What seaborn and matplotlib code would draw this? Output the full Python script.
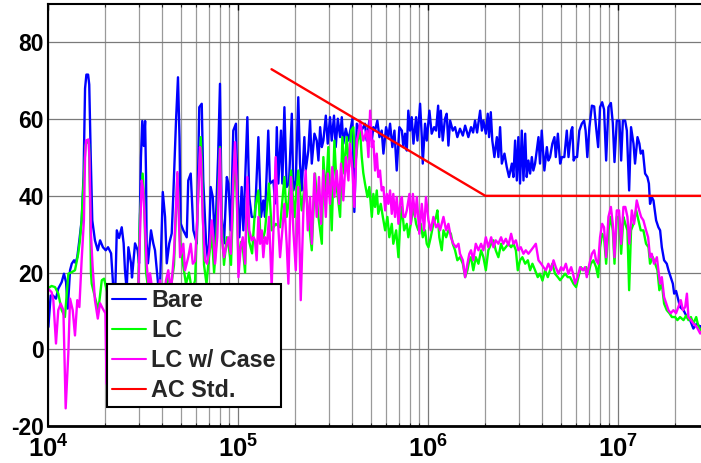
import numpy as np
import pandas as pd
import matplotlib
matplotlib.use("Agg")
import matplotlib.pyplot as plt
from matplotlib.ticker import LogLocator, NullFormatter
import seaborn as sns

# Conducted emission spectra: (log10 of frequency in Hz, level in dB)
bare_points = [
    (4.002, 5.8), (4.014, 14.0), (4.026, 14.0), (4.042, 13.2), (4.054, 15.8), (4.072, 17.5), (4.084, 19.7),
    (4.095, 17.5), (4.104, 10.6), (4.116, 20.6), (4.125, 22.3), (4.137, 23.2), (4.145, 22.5), (4.154, 24.0),
    (4.165, 28.4), (4.177, 33.6), (4.187, 45.0), (4.195, 68.0), (4.202, 71.6), (4.211, 71.6), (4.217, 69.0),
    (4.225, 50.0), (4.233, 33.6), (4.247, 28.4), (4.262, 25.8), (4.274, 28.4), (4.289, 26.6), (4.304, 25.8),
    (4.316, 26.6), (4.332, 25.0), (4.342, 17.2), (4.353, 13.5), (4.362, 31.0), (4.374, 29.0), (4.388, 31.8),
    (4.398, 27.6), (4.405, 20.6), (4.414, 15.4), (4.423, 26.6), (4.437, 22.4), (4.442, 18.7), (4.458, 27.6),
    (4.472, 25.8), (4.479, 22.4), (4.489, 50.0), (4.496, 59.5), (4.504, 53.0), (4.511, 59.5), (4.516, 45.0),
    (4.519, 27.6), (4.526, 22.4), (4.542, 31.0), (4.554, 27.6), (4.563, 25.8), (4.579, 17.2), (4.587, 12.0),
    (4.604, 41.0), (4.616, 34.5), (4.625, 22.4), (4.638, 27.6), (4.651, 30.2), (4.659, 39.7), (4.674, 60.0),
    (4.684, 70.9), (4.692, 55.0), (4.698, 32.8), (4.712, 31.0), (4.730, 29.2), (4.738, 44.0), (4.751, 45.8),
    (4.765, 31.0), (4.783, 27.6), (4.791, 50.0), (4.796, 63.1), (4.809, 64.0), (4.817, 44.0), (4.832, 27.6),
    (4.844, 22.4), (4.856, 42.3), (4.867, 39.7), (4.879, 27.6), (4.895, 50.0), (4.905, 69.2), (4.914, 34.5),
    (4.926, 27.6), (4.941, 44.9), (4.949, 43.2), (4.962, 31.0), (4.975, 57.0), (4.989, 58.8), (4.996, 43.2),
    (5.007, 29.2), (5.019, 42.3), (5.028, 31.0), (5.049, 60.5), (5.059, 39.7), (5.072, 34.5), (5.089, 34.5),
    (5.107, 55.3), (5.121, 34.5), (5.133, 38.8), (5.142, 34.5), (5.159, 57.0), (5.168, 43.2), (5.186, 44.0),
    (5.195, 38.0), (5.204, 57.9), (5.212, 43.2), (5.226, 57.0), (5.233, 43.2), (5.244, 63.1), (5.256, 42.3),
    (5.268, 43.2), (5.283, 61.4), (5.291, 41.4), (5.304, 44.0), (5.317, 65.7), (5.326, 48.4), (5.335, 41.4),
    (5.349, 55.3), (5.356, 46.6), (5.370, 51.8), (5.379, 59.6), (5.388, 48.4), (5.402, 56.2), (5.414, 54.4),
    (5.423, 49.2), (5.432, 57.9), (5.441, 52.7), (5.449, 54.4), (5.462, 60.9), (5.472, 53.6), (5.484, 60.5),
    (5.493, 54.4), (5.505, 60.9), (5.514, 52.7), (5.525, 60.1), (5.537, 55.3), (5.546, 60.5), (5.554, 53.6),
    (5.567, 57.5), (5.581, 54.4), (5.602, 60.1), (5.612, 35.8), (5.625, 58.8), (5.642, 57.0), (5.655, 57.5),
    (5.668, 58.8), (5.677, 54.4), (5.691, 59.6), (5.704, 54.4), (5.712, 57.9), (5.721, 57.0), (5.733, 59.6),
    (5.744, 55.3), (5.756, 57.0), (5.765, 51.0), (5.779, 57.9), (5.791, 55.3), (5.800, 58.8), (5.812, 52.7),
    (5.823, 57.0), (5.835, 46.6), (5.849, 57.9), (5.862, 57.0), (5.870, 52.7), (5.879, 56.2), (5.888, 51.8),
    (5.896, 62.2), (5.905, 57.0), (5.914, 60.5), (5.923, 53.6), (5.937, 60.5), (5.944, 54.4), (5.958, 64.0),
    (5.967, 55.3), (5.972, 48.4), (5.984, 58.8), (5.993, 54.4), (6.007, 62.2), (6.019, 56.2), (6.032, 57.9),
    (6.042, 57.0), (6.053, 63.5), (6.059, 55.3), (6.067, 62.2), (6.077, 54.4), (6.089, 60.1), (6.098, 61.4),
    (6.107, 53.1), (6.116, 59.6), (6.130, 57.0), (6.142, 57.9), (6.154, 55.3), (6.168, 57.5), (6.183, 55.7),
    (6.195, 58.3), (6.212, 55.3), (6.226, 57.9), (6.237, 56.5), (6.247, 59.6), (6.258, 56.5), (6.274, 62.2),
    (6.283, 57.0), (6.291, 59.6), (6.304, 56.2), (6.314, 61.4), (6.321, 55.3), (6.330, 61.8), (6.338, 54.4),
    (6.349, 50.1), (6.362, 55.3), (6.370, 50.1), (6.379, 57.9), (6.388, 48.4), (6.402, 51.0), (6.414, 47.5),
    (6.426, 44.9), (6.441, 48.4), (6.449, 44.9), (6.458, 54.4), (6.467, 44.0), (6.475, 55.3), (6.484, 43.2),
    (6.493, 57.0), (6.502, 44.0), (6.511, 56.2), (6.519, 44.9), (6.528, 49.2), (6.537, 45.8), (6.546, 50.1),
    (6.554, 46.6), (6.563, 48.4), (6.572, 51.8), (6.581, 55.3), (6.589, 48.4), (6.598, 57.0), (6.612, 46.6),
    (6.625, 52.7), (6.633, 49.2), (6.642, 50.1), (6.654, 53.6), (6.665, 55.3), (6.672, 50.1), (6.683, 56.2),
    (6.695, 48.4), (6.704, 50.1), (6.717, 50.1), (6.730, 57.0), (6.739, 50.1), (6.753, 57.0), (6.759, 57.9),
    (6.766, 49.2), (6.774, 50.1), (6.784, 50.1), (6.796, 57.0), (6.809, 58.8), (6.821, 59.6), (6.829, 57.0),
    (6.838, 50.1), (6.849, 57.9), (6.862, 63.5), (6.874, 63.3), (6.884, 57.9), (6.895, 52.7), (6.905, 63.1),
    (6.916, 64.4), (6.926, 62.5), (6.937, 49.2), (6.949, 63.1), (6.962, 64.2), (6.972, 59.0), (6.981, 48.8),
    (6.993, 59.6), (7.007, 59.6), (7.016, 49.2), (7.025, 59.6), (7.037, 59.6), (7.046, 57.0), (7.058, 41.4),
    (7.068, 57.9), (7.081, 53.6), (7.089, 48.4), (7.102, 55.3), (7.112, 53.6), (7.119, 51.0), (7.130, 51.8),
    (7.142, 45.8), (7.154, 44.9), (7.162, 43.2), (7.168, 37.9), (7.177, 39.7), (7.186, 38.8), (7.200, 33.6),
    (7.212, 31.8), (7.221, 31.0), (7.230, 26.6), (7.242, 23.2), (7.256, 22.3), (7.265, 20.6), (7.277, 18.8),
    (7.288, 17.1), (7.295, 14.5), (7.305, 15.2), (7.317, 12.8), (7.326, 11.0), (7.344, 10.2), (7.362, 8.4),
    (7.379, 7.6), (7.396, 5.4), (7.414, 6.7), (7.432, 5.8), (7.437, 6.0),
]

lc_points = [
    (4.000, 15.9), (4.019, 16.5), (4.037, 16.2), (4.054, 14.5), (4.072, 10.2), (4.089, 8.4), (4.107, 19.7),
    (4.125, 20.1), (4.142, 20.6), (4.159, 24.9), (4.168, 28.4), (4.177, 33.6), (4.189, 45.0), (4.197, 53.0),
    (4.205, 54.5), (4.216, 53.5), (4.221, 40.0), (4.226, 20.0), (4.230, 17.1), (4.247, 13.6), (4.265, 10.2),
    (4.283, 18.0), (4.295, 18.4), (4.305, 16.2), (4.326, 12.0), (4.353, 8.0), (4.389, 12.0), (4.432, 9.0),
    (4.474, 15.0), (4.484, 35.0), (4.498, 45.8), (4.505, 40.0), (4.516, 20.0), (4.532, 14.0), (4.547, 12.0),
    (4.563, 14.0), (4.589, 10.0), (4.616, 15.0), (4.632, 19.0), (4.647, 16.0), (4.663, 22.0), (4.681, 45.8),
    (4.695, 28.0), (4.711, 22.0), (4.726, 17.0), (4.742, 20.0), (4.758, 15.0), (4.774, 18.0), (4.787, 36.0),
    (4.804, 55.3), (4.811, 45.0), (4.821, 22.0), (4.834, 17.0), (4.847, 24.0), (4.862, 30.0), (4.874, 20.0),
    (4.884, 27.0), (4.895, 40.0), (4.905, 52.7), (4.914, 33.0), (4.926, 22.0), (4.941, 29.2), (4.953, 26.0),
    (4.963, 22.0), (4.975, 40.0), (4.984, 52.0), (4.993, 40.0), (5.003, 22.0), (5.016, 28.0), (5.026, 26.0),
    (5.037, 20.0), (5.049, 43.0), (5.059, 28.0), (5.074, 25.0), (5.089, 36.2), (5.107, 41.4), (5.116, 31.0),
    (5.133, 29.0), (5.142, 31.0), (5.163, 43.2), (5.177, 31.0), (5.198, 32.7), (5.221, 31.8), (5.244, 44.9),
    (5.256, 34.5), (5.265, 38.0), (5.279, 46.6), (5.296, 34.5), (5.317, 46.6), (5.335, 36.2), (5.353, 44.0),
    (5.370, 34.5), (5.388, 25.8), (5.405, 45.8), (5.423, 34.5), (5.441, 27.5), (5.449, 50.1), (5.462, 39.7),
    (5.475, 52.7), (5.493, 31.0), (5.507, 54.4), (5.519, 42.3), (5.537, 34.5), (5.549, 55.3), (5.559, 45.8),
    (5.572, 55.3), (5.584, 47.5), (5.595, 57.0), (5.607, 57.9), (5.616, 47.5), (5.630, 54.4), (5.642, 57.0),
    (5.651, 50.1), (5.659, 46.0), (5.668, 43.2), (5.681, 39.7), (5.691, 42.3), (5.704, 34.5), (5.712, 40.5),
    (5.721, 37.1), (5.730, 41.4), (5.738, 35.3), (5.751, 37.9), (5.762, 34.5), (5.774, 31.0), (5.786, 34.5),
    (5.796, 29.2), (5.809, 32.7), (5.817, 27.5), (5.832, 31.0), (5.844, 24.0), (5.853, 32.7), (5.862, 37.1),
    (5.874, 31.0), (5.888, 32.7), (5.896, 29.2), (5.909, 32.7), (5.923, 37.1), (5.937, 32.7), (5.949, 31.0),
    (5.962, 32.7), (5.972, 29.2), (5.984, 31.0), (5.993, 27.5), (6.002, 26.6), (6.014, 29.2), (6.028, 32.7),
    (6.042, 34.5), (6.049, 36.2), (6.059, 29.2), (6.072, 25.8), (6.081, 31.0), (6.095, 29.2), (6.107, 31.0),
    (6.120, 30.1), (6.130, 27.5), (6.142, 25.8), (6.154, 23.2), (6.168, 24.0), (6.183, 22.3), (6.195, 18.8),
    (6.207, 20.6), (6.217, 23.2), (6.226, 24.0), (6.238, 20.6), (6.251, 24.0), (6.265, 22.3), (6.279, 25.8),
    (6.291, 24.0), (6.304, 20.6), (6.317, 25.8), (6.332, 27.5), (6.344, 28.4), (6.356, 25.8), (6.370, 24.0),
    (6.384, 27.5), (6.396, 25.8), (6.409, 26.6), (6.423, 27.5), (6.437, 26.6), (6.449, 27.5), (6.462, 25.8),
    (6.472, 20.6), (6.484, 23.2), (6.496, 24.0), (6.511, 22.3), (6.525, 23.2), (6.537, 20.6), (6.549, 22.3),
    (6.563, 20.6), (6.577, 18.8), (6.589, 19.7), (6.602, 17.9), (6.616, 20.6), (6.630, 18.8), (6.642, 20.6),
    (6.654, 22.3), (6.668, 19.7), (6.683, 18.8), (6.695, 18.0), (6.707, 18.8), (6.721, 19.7), (6.735, 18.8),
    (6.747, 18.8), (6.765, 17.1), (6.779, 16.2), (6.791, 18.8), (6.804, 21.4), (6.817, 20.6), (6.832, 21.4),
    (6.844, 19.7), (6.856, 22.3), (6.870, 23.2), (6.884, 21.4), (6.895, 18.8), (6.905, 26.6), (6.916, 30.1),
    (6.926, 29.2), (6.937, 22.3), (6.949, 31.0), (6.962, 34.5), (6.972, 31.0), (6.981, 22.3), (6.993, 34.5),
    (7.005, 34.5), (7.016, 24.9), (7.028, 34.5), (7.038, 32.7), (7.049, 31.0), (7.058, 15.4), (7.068, 31.0),
    (7.081, 32.7), (7.095, 36.2), (7.107, 33.6), (7.119, 31.0), (7.133, 31.0), (7.147, 27.5), (7.160, 26.6),
    (7.168, 22.3), (7.183, 24.0), (7.195, 22.3), (7.207, 20.6), (7.217, 15.4), (7.230, 17.1), (7.242, 11.9),
    (7.256, 10.2), (7.270, 9.4), (7.283, 8.4), (7.300, 8.4), (7.312, 7.6), (7.326, 8.4), (7.344, 7.6),
    (7.358, 8.8), (7.370, 7.6), (7.383, 8.4), (7.396, 6.7), (7.411, 8.4), (7.423, 5.8), (7.437, 5.0),
]

lc_case_points = [
    (4.000, 15.8), (4.019, 14.9), (4.028, 12.8), (4.042, 1.5), (4.054, 10.2), (4.067, 11.9), (4.081, 10.2),
    (4.093, -15.4), (4.107, -1.0), (4.116, 13.2), (4.130, 10.2), (4.142, 3.6), (4.154, 12.8), (4.165, 11.0),
    (4.177, 23.2), (4.189, 33.6), (4.195, 50.0), (4.200, 54.4), (4.213, 54.7), (4.218, 50.0), (4.226, 30.0),
    (4.235, 21.4), (4.247, 12.8), (4.262, 8.0), (4.274, 12.0), (4.288, 10.6), (4.302, 9.4), (4.308, -9.0),
    (4.316, 5.0), (4.337, 10.0), (4.379, 8.0), (4.421, 12.0), (4.453, 5.0), (4.474, 14.0), (4.484, 30.0),
    (4.493, 44.0), (4.500, 42.0), (4.508, 35.0), (4.519, 22.3), (4.532, 15.0), (4.537, 19.8), (4.553, 14.0),
    (4.568, 10.0), (4.589, 18.0), (4.605, 12.0), (4.621, 18.0), (4.633, 20.6), (4.647, 15.0), (4.663, 25.0),
    (4.681, 46.2), (4.695, 24.0), (4.712, 27.5), (4.721, 20.6), (4.738, 24.0), (4.751, 27.5), (4.762, 22.3),
    (4.774, 23.0), (4.786, 34.5), (4.800, 52.7), (4.805, 50.0), (4.814, 34.5), (4.826, 23.2), (4.837, 22.3),
    (4.849, 25.8), (4.862, 33.6), (4.870, 29.2), (4.879, 22.3), (4.891, 29.2), (4.905, 52.3), (4.914, 29.2),
    (4.926, 24.0), (4.941, 27.5), (4.950, 29.2), (4.962, 24.9), (4.975, 44.0), (4.984, 54.0), (4.993, 43.2),
    (5.002, 18.8), (5.014, 26.6), (5.025, 29.2), (5.037, 22.3), (5.049, 44.9), (5.059, 31.0), (5.072, 28.4),
    (5.082, 29.2), (5.089, 28.4), (5.098, 23.2), (5.107, 34.5), (5.116, 27.5), (5.125, 31.0), (5.133, 24.0),
    (5.142, 29.2), (5.153, 27.5), (5.163, 34.5), (5.177, 16.2), (5.186, 31.0), (5.198, 50.1), (5.209, 34.5),
    (5.221, 24.0), (5.233, 31.0), (5.244, 37.9), (5.256, 27.5), (5.265, 17.1), (5.279, 44.9), (5.291, 31.0),
    (5.304, 20.6), (5.317, 42.3), (5.330, 12.8), (5.344, 36.2), (5.356, 46.6), (5.367, 31.0), (5.379, 39.7),
    (5.388, 27.5), (5.402, 45.8), (5.414, 34.5), (5.426, 44.9), (5.437, 32.7), (5.449, 46.6), (5.462, 34.5),
    (5.472, 45.8), (5.484, 37.9), (5.496, 47.5), (5.507, 39.7), (5.519, 46.6), (5.532, 37.9), (5.542, 48.4),
    (5.554, 38.8), (5.567, 50.1), (5.581, 44.0), (5.589, 53.6), (5.602, 46.6), (5.612, 37.1), (5.625, 54.4),
    (5.637, 57.0), (5.642, 59.6), (5.659, 54.4), (5.677, 57.0), (5.686, 50.1), (5.695, 62.2), (5.704, 52.7),
    (5.712, 54.4), (5.721, 46.6), (5.730, 51.0), (5.738, 44.9), (5.747, 46.6), (5.756, 41.4), (5.765, 42.3),
    (5.774, 36.2), (5.783, 40.5), (5.791, 37.9), (5.800, 41.4), (5.809, 35.3), (5.817, 40.5), (5.826, 34.5),
    (5.835, 39.7), (5.844, 32.7), (5.853, 37.9), (5.862, 39.7), (5.870, 34.5), (5.879, 34.5), (5.888, 36.2),
    (5.902, 40.5), (5.909, 32.7), (5.920, 40.5), (5.932, 34.5), (5.941, 39.7), (5.954, 30.1), (5.967, 37.9),
    (5.979, 31.0), (5.989, 39.7), (6.002, 33.6), (6.014, 31.0), (6.028, 34.5), (6.042, 31.8), (6.054, 32.7),
    (6.063, 31.0), (6.081, 34.5), (6.095, 31.0), (6.107, 32.7), (6.120, 29.2), (6.133, 27.5), (6.147, 26.6),
    (6.160, 27.5), (6.168, 24.9), (6.183, 23.2), (6.195, 18.8), (6.207, 22.3), (6.217, 24.9), (6.226, 25.8),
    (6.238, 23.2), (6.251, 27.5), (6.265, 25.8), (6.279, 27.5), (6.291, 25.8), (6.304, 29.2), (6.317, 26.6),
    (6.332, 29.2), (6.344, 26.6), (6.356, 28.4), (6.370, 27.5), (6.384, 29.2), (6.396, 27.5), (6.409, 28.8),
    (6.423, 27.1), (6.437, 30.1), (6.449, 27.5), (6.462, 28.4), (6.475, 25.8), (6.488, 26.6), (6.502, 24.9),
    (6.514, 25.8), (6.528, 24.9), (6.542, 25.8), (6.554, 26.6), (6.567, 27.5), (6.581, 23.2), (6.595, 22.3),
    (6.607, 21.4), (6.620, 20.6), (6.633, 22.3), (6.647, 20.6), (6.660, 23.2), (6.672, 21.4), (6.686, 19.7),
    (6.700, 21.4), (6.712, 20.6), (6.725, 22.3), (6.738, 19.7), (6.753, 21.4), (6.763, 19.7), (6.774, 17.1),
    (6.786, 18.8), (6.800, 21.4), (6.814, 20.6), (6.826, 21.4), (6.835, 18.8), (6.849, 22.3), (6.862, 24.9),
    (6.874, 25.8), (6.884, 23.2), (6.895, 22.3), (6.905, 29.2), (6.916, 32.7), (6.926, 31.8), (6.937, 24.0),
    (6.949, 34.5), (6.962, 37.1), (6.972, 32.7), (6.981, 24.0), (6.993, 36.2), (7.005, 36.2), (7.016, 27.5),
    (7.028, 37.1), (7.038, 37.1), (7.049, 34.5), (7.059, 27.5), (7.072, 36.2), (7.084, 32.7), (7.098, 38.8),
    (7.111, 36.2), (7.121, 34.5), (7.133, 33.6), (7.147, 31.0), (7.158, 29.2), (7.168, 24.0), (7.177, 24.9),
    (7.189, 22.3), (7.204, 24.0), (7.212, 20.6), (7.221, 17.1), (7.230, 18.8), (7.242, 13.6), (7.253, 12.0),
    (7.265, 10.2), (7.277, 9.4), (7.291, 10.2), (7.305, 9.4), (7.317, 11.0), (7.330, 12.8), (7.341, 10.2),
    (7.353, 11.0), (7.362, 14.5), (7.370, 8.4), (7.383, 7.6), (7.396, 6.7), (7.414, 5.8), (7.432, 4.1),
    (7.437, 4.5),
]

# AC emission limit line (Hz, dB)
ac_std_freq = [1.5e5, 2.0e6, 3.0e7]
ac_std_db = [73.0, 40.0, 40.0]

series_names = ["Bare", "LC", "LC w/ Case", "AC Std."]
series_colors = ["#0000FF", "#00FF00", "#FF00FF", "#FF0000"]

x_ticks = [1e4, 1e5, 1e6, 1e7]
x_tick_labels = [r"$\mathbf{10^{4}}$", r"$\mathbf{10^{5}}$", r"$\mathbf{10^{6}}$", r"$\mathbf{10^{7}}$"]
y_ticks = [-20, 0, 20, 40, 60, 80]


def to_frame(points):
    logf, db = zip(*points)
    return pd.DataFrame({"freq": np.power(10.0, np.array(logf)), "db": np.array(db)})


sns.set_style("white")
plt.rcParams["font.family"] = ["Liberation Sans", "DejaVu Sans"]
plt.rcParams["mathtext.fontset"] = "custom"
plt.rcParams["mathtext.rm"] = "Liberation Sans:bold"
plt.rcParams["mathtext.bf"] = "Liberation Sans:bold"
plt.rcParams["mathtext.it"] = "Liberation Sans:bold"

fig = plt.figure(figsize=(7.01, 4.63), dpi=100)
ax = fig.add_axes([48 / 701, 37 / 463, 653 / 701, 422 / 463])

frames = [to_frame(bare_points), to_frame(lc_points), to_frame(lc_case_points),
          pd.DataFrame({"freq": ac_std_freq, "db": ac_std_db})]
for name, color, df in zip(series_names, series_colors, frames):
    sns.lineplot(data=df, x="freq", y="db", ax=ax, color=color, linewidth=1.7,
                 label=name, estimator=None, sort=False)

ax.set_xscale("log")
ax.set_xlim(1e4, 2.73e7)
ax.set_ylim(-20, 90)
ax.set_xlabel("")
ax.set_ylabel("")

ax.set_xticks(x_ticks)
ax.set_xticklabels(x_tick_labels, fontsize=18.5)
ax.xaxis.set_minor_locator(LogLocator(base=10, subs=np.arange(2, 10)))
ax.xaxis.set_minor_formatter(NullFormatter())
ax.set_yticks(y_ticks)
ax.set_yticklabels([str(v) for v in y_ticks], fontsize=16.5, fontweight="bold")

ax.set_axisbelow(True)
ax.grid(which="major", color="#7a7a7a", linewidth=0.9)
ax.grid(which="minor", axis="x", color="#9a9a9a", linewidth=0.9)

ax.tick_params(which="major", direction="in", length=4, width=1, top=True, right=False,
               colors="black", pad=3)
ax.tick_params(axis="x", which="major", pad=7)
ax.tick_params(which="minor", direction="in", length=2.5, width=0.8, top=True, bottom=True)

for side in ["left", "top", "bottom"]:
    ax.spines[side].set_visible(True)
    ax.spines[side].set_color("black")
    ax.spines[side].set_linewidth(1.5)
ax.spines["bottom"].set_linewidth(2)
ax.spines["right"].set_visible(False)

leg = ax.legend(loc="lower left", bbox_to_anchor=(0.0904, 0.045), borderaxespad=0,
                prop={"weight": "bold", "size": 16.8}, frameon=True, fancybox=False,
                edgecolor="black", framealpha=1, handlelength=1.45, handletextpad=0.22,
                labelspacing=0.3, borderpad=0.22)
leg.get_frame().set_linewidth(1.5)
for line in leg.get_lines():
    line.set_linewidth(1.5)

fig.savefig("out.png", dpi=100)
